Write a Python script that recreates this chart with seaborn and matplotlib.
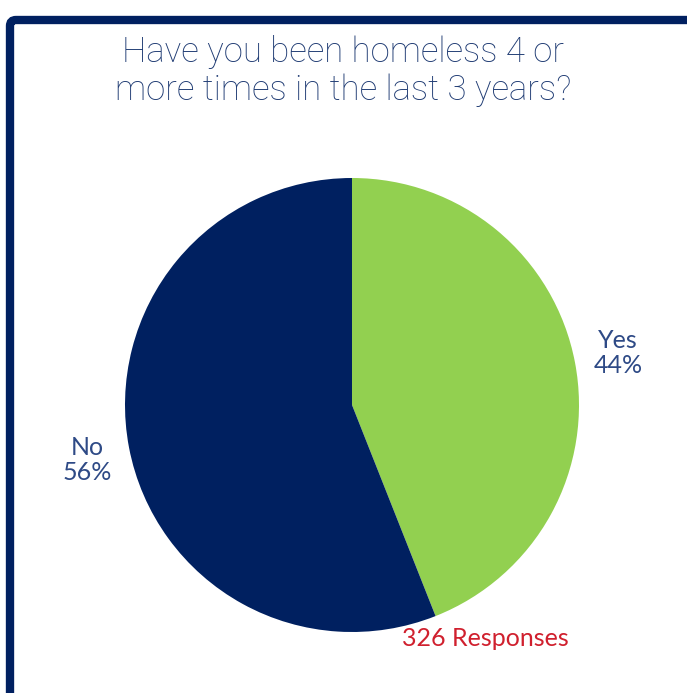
import matplotlib
matplotlib.use("Agg")
import matplotlib.pyplot as plt
import seaborn as sns
from matplotlib.patches import FancyBboxPatch

categories = ["Yes", "No"]
percentages = [44, 56]
title = "Have you been homeless 4 or\nmore times in the last 3 years?"
note = "326 Responses"

sns.set_theme(style="white")
colors = ["#92D050", "#002060"]
label_color = "#2E4A86"

W, H = 687, 693
fig = plt.figure(figsize=(W / 100, H / 100), dpi=100)
ax = fig.add_axes([0, 0, 1, 1])

# border frame
frame = FancyBboxPatch((10, -200), 900, H - 10 + 200 - 10,
                       boxstyle="round,pad=0,rounding_size=6",
                       fill=False, edgecolor="#002060", linewidth=6,
                       transform=ax.transData, clip_on=False)
ax.add_patch(frame)

cx, cy, r = 352, H - 405, 227
wedges, _ = ax.pie(percentages, colors=colors, startangle=90, counterclock=False,
                   center=(cx, cy), radius=r, frame=True,
                   wedgeprops=dict(linewidth=0))
ax.set_xlim(0, W)
ax.set_ylim(0, H)
ax.set_aspect("equal")
ax.axis("off")

label_pos = {"Yes": (618, H - 353), "No": (87, H - 460)}
for cat, pct in zip(categories, percentages):
    x, y = label_pos[cat]
    ax.text(x, y, f"{cat}\n{pct}%", ha="center", va="center", fontsize=18,
            color=label_color, family=["Lato", "DejaVu Sans"],
            linespacing=1.15)

ax.text(W / 2, H - 71, title, ha="center", va="center", fontsize=25,
        color="#1F3B73", family=["Roboto", "DejaVu Sans"], weight="light",
        linespacing=1.15)

ax.text(485, H - 638, note, ha="center", va="center", fontsize=18,
        color="#D0202E", family=["Lato", "DejaVu Sans"])

fig.savefig("out.png", dpi=100)
